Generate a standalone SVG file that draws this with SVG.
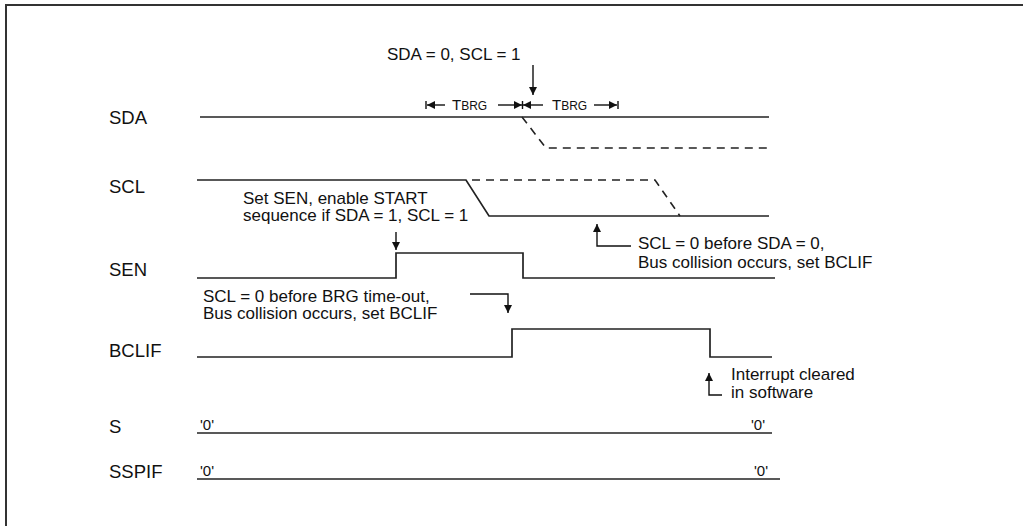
<svg xmlns="http://www.w3.org/2000/svg" width="1023" height="526" viewBox="0 0 1023 526">
<defs>
<style>
text{font-family:"Liberation Sans",Arial,Helvetica,sans-serif;fill:#111}
.lbl{font-size:18.5px}
.ann{font-size:17px}
.z{font-size:15px}
.sig{fill:none;stroke:#222;stroke-width:1.7}
.dash{fill:none;stroke:#222;stroke-width:1.6;stroke-dasharray:8 6}
.arr{fill:none;stroke:#111;stroke-width:1.4}
.t{font-size:15px}
.s{font-size:12px}
</style>
<marker id="ah" viewBox="0 0 10 10" refX="10" refY="5" markerWidth="8" markerHeight="8" markerUnits="userSpaceOnUse" orient="auto">
<path d="M0,0 L10,5 L0,10 z" fill="#111"/>
</marker>
</defs>
<rect width="1023" height="526" fill="#fff"/>
<path d="M6,526 V5 H1023" fill="none" stroke="#333" stroke-width="2"/>

<g id="sig-SDA">
<text class="lbl" x="109" y="124">SDA</text>
<path class="sig" d="M200,117 H769"/>
<path class="dash" d="M522,117 L546,148 H769"/>
</g>
<g id="sig-SCL">
<text class="lbl" x="109" y="193">SCL</text>
<path class="sig" d="M197,180 H466 L489,216 H769"/>
<path class="dash" d="M472,180 H655 L680,216"/>
</g>
<g id="sig-SEN">
<text class="lbl" x="109" y="276">SEN</text>
<path class="sig" d="M197,278 H396 V253 H523 V278 H775"/>
</g>
<g id="sig-BCLIF">
<text class="lbl" x="109" y="357">BCLIF</text>
<path class="sig" d="M197,357 H512 V329 H710 V357 H772"/>
</g>
<g id="sig-S">
<text class="lbl" x="109" y="433">S</text>
<path class="sig" d="M197,433 H772"/>
<text class="z" x="200" y="430">'0'</text>
<text class="z" x="751" y="430">'0'</text>
</g>
<g id="sig-SSPIF">
<text class="lbl" x="109" y="478">SSPIF</text>
<path class="sig" d="M197,479 H780"/>
<text class="z" x="200" y="476">'0'</text>
<text class="z" x="754" y="476">'0'</text>
</g>

<g id="note-start">
<text class="ann" x="387" y="60">SDA = 0, SCL = 1</text>
</g>
<g id="note-tbrg">
<text x="452" y="110"><tspan class="t">T</tspan><tspan class="s">BRG</tspan></text>
<text x="552" y="110"><tspan class="t">T</tspan><tspan class="s">BRG</tspan></text>
</g>
<g id="note-sen">
<text class="ann" x="243" y="204">Set SEN, enable START</text>
<text class="ann" x="243" y="221">sequence if SDA = 1, SCL = 1</text>
</g>
<g id="note-scl">
<text class="ann" x="638" y="249">SCL = 0 before SDA = 0,</text>
<text class="ann" x="638" y="268">Bus collision occurs, set BCLIF</text>
</g>
<g id="note-brg">
<text class="ann" x="203" y="302">SCL = 0 before BRG time-out,</text>
<text class="ann" x="203" y="319">Bus collision occurs, set BCLIF</text>
</g>
<g id="note-int">
<text class="ann" x="731" y="380">Interrupt cleared</text>
<text class="ann" x="731" y="398">in software</text>
</g>

<g id="connectors">
<path class="arr" d="M533,65 V95" marker-end="url(#ah)"/>
<path class="arr" d="M426,101 V109 M522.5,101 V109 M618,101 V109"/>
<path class="arr" d="M445,105 H427" marker-end="url(#ah)"/>
<path class="arr" d="M498,105 H522" marker-end="url(#ah)"/>
<path class="arr" d="M543,105 H523" marker-end="url(#ah)"/>
<path class="arr" d="M594,105 H617" marker-end="url(#ah)"/>
<path class="arr" d="M396,232 V250" marker-end="url(#ah)"/>
<path class="arr" d="M631,246 H597 V224" marker-end="url(#ah)"/>
<path class="arr" d="M470,294 H508 V313" marker-end="url(#ah)"/>
<path class="arr" d="M722,395 H709 V373" marker-end="url(#ah)"/>
</g>
</svg>
